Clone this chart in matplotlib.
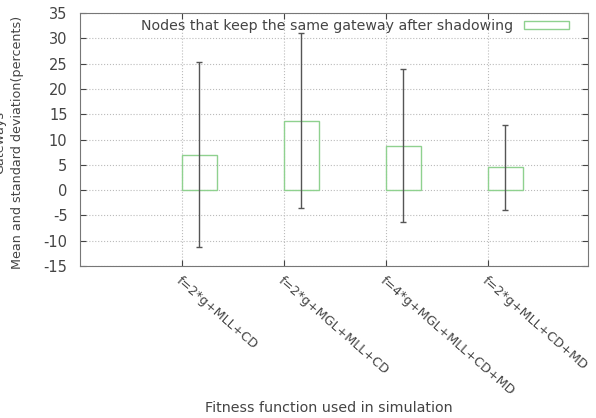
import numpy as np
import matplotlib.pyplot as plt

plt.rcParams["axes.unicode_minus"] = False

labels = ["f=2*g+MLL+CD", "f=2*g+MGL+MLL+CD", "f=4*g+MGL+MLL+CD+MD", "f=2*g+MLL+CD+MD"]
means = [7.0, 13.7, 8.8, 4.5]
stds = [18.3, 17.3, 15.2, 8.4]

pos = np.arange(1, len(labels) + 1)
width = 0.34

fig = plt.figure(figsize=(5.96, 4.18), dpi=100)
ax = fig.add_axes([80/596, 1 - 266/418, 508/596, 253/418])

ax.bar(pos + width/2, means, width, fill=False, edgecolor="#8fd18f", linewidth=1.0,
       label="Nodes that keep the same gateway after shadowing", zorder=3)
ax.errorbar(pos + width/2, means, yerr=stds, fmt="none", ecolor="#555555",
            elinewidth=1.0, capsize=2.5, capthick=1.0, zorder=4)

ax.set_xlim(0, 4.98)
ax.set_ylim(-15, 35)
ax.set_yticks(np.arange(-15, 36, 5))
ax.set_xticks(pos)
ax.set_xticklabels(labels, rotation=-41, ha="left", va="top", rotation_mode="anchor",
                   fontsize=9.2, color="#444444")
ax.tick_params(axis="y", labelsize=10.5, colors="#444444", direction="in", right=True,
               length=4, pad=9)
ax.tick_params(axis="x", direction="in", top=True, length=4, colors="#444444", pad=6)
ax.grid(True, linestyle=":", color="#bbbbbb", linewidth=0.8)
for s in ax.spines.values():
    s.set_color("#777777")

ax.set_xlabel("Fitness function used in simulation", fontsize=10.3, color="#444444")
ax.xaxis.set_label_coords(0.49, -0.535)
ax.set_ylabel("Gateways\nMean and standard deviation(percents)", fontsize=9.2,
              color="#444444", linespacing=1.5)
ax.yaxis.set_label_coords(-0.11, 0.49)

leg = ax.legend(loc="upper right", bbox_to_anchor=(0.98, 1.008), markerfirst=False,
                frameon=False, fontsize=10.2, handlelength=3.2, handleheight=0.5,
                borderaxespad=0.2, handletextpad=0.8)
for t in leg.get_texts():
    t.set_color("#444444")

fig.savefig("out.png", dpi=100)
